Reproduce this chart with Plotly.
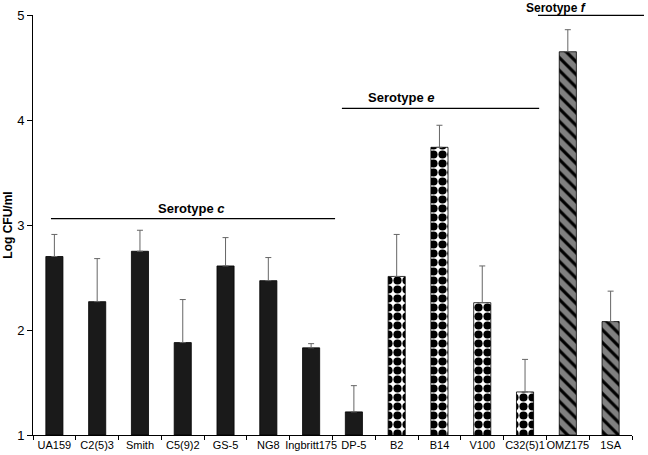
import plotly.graph_objects as go

strains = ["UA159", "C2(5)3", "Smith", "C5(9)2", "GS-5", "NG8", "Ingbritt175",
           "DP-5", "B2", "B14", "V100", "C32(5)1", "OMZ175", "1SA"]
log_cfu = [2.70, 2.27, 2.75, 1.88, 2.61, 2.47, 1.83, 1.22, 2.51, 3.74, 2.26, 1.41, 4.65, 2.08]
err_up = [0.21, 0.41, 0.20, 0.41, 0.27, 0.22, 0.04, 0.25, 0.40, 0.21, 0.35, 0.31, 0.21, 0.29]
serotype = ["c"] * 8 + ["e"] * 4 + ["f"] * 2

fig = go.Figure()

groups = {
    "c": dict(color="#1a1a1a", pattern=dict(shape="")),
    "e": dict(color="white", pattern=dict(shape=".", fgcolor="black", bgcolor="white",
                                          fgopacity=1, size=9, solidity=0.65, fillmode="overlay")),
    "f": dict(color="#808080", pattern=dict(shape="\\", fgcolor="black", bgcolor="#808080",
                                            fgopacity=1, size=9, solidity=0.35, fillmode="overlay")),
}

for g, st in groups.items():
    xs = [s for s, t in zip(strains, serotype) if t == g]
    ys = [v for v, t in zip(log_cfu, serotype) if t == g]
    es = [e for e, t in zip(err_up, serotype) if t == g]
    fig.add_trace(go.Bar(
        x=xs, y=[v - 1 for v in ys], base=1,
        marker=dict(color=st["color"], pattern=st["pattern"],
                    line=dict(color="black", width=0.8)),
        error_y=dict(type="data", symmetric=False, array=es, arrayminus=[0] * len(es),
                     color="#666666", thickness=1, width=3),
        width=0.4, showlegend=False,
    ))

fig.update_layout(
    width=648, height=455,
    margin=dict(l=33, r=16, t=15, b=20),
    plot_bgcolor="white", paper_bgcolor="white",
    font=dict(family="Liberation Sans, Arial, sans-serif", size=11, color="black"),
    xaxis=dict(categoryorder="array", categoryarray=strains, range=[-0.5, 13.5],
               showline=True, linecolor="black", linewidth=1, automargin=False,
               ticks="outside", tickson="boundaries", ticklen=4, tickcolor="black",
               tickangle=0, tickfont=dict(size=11), showgrid=False),
    yaxis=dict(range=[1, 5], tickvals=[1, 2, 3, 4, 5], showline=True, linecolor="black",
               linewidth=1, ticks="outside", ticklen=5, tickcolor="black", automargin=False,
               showgrid=False, zeroline=False, tickfont=dict(size=13),
               title=dict(text="<b>Log CFU/ml</b>", font=dict(size=12), standoff=1)),
    bargap=0.6,
)

# Serotype group lines
fig.add_shape(type="line", xref="x", yref="y", x0=-0.08, x1=6.56, y0=3.06, y1=3.06,
              line=dict(color="black", width=1.2))
fig.add_shape(type="line", xref="x", yref="y", x0=6.72, x1=11.33, y0=4.11, y1=4.11,
              line=dict(color="black", width=1.2))
fig.add_shape(type="line", xref="paper", yref="paper", x0=0.843, x1=1.02, y0=0.999, y1=0.999,
              line=dict(color="black", width=1.2))

fig.add_annotation(x=3.2, y=3.06, xref="x", yref="y", text="<b>Serotype <i>c</i></b>",
                   showarrow=False, yanchor="bottom", yshift=1, font=dict(size=13))
fig.add_annotation(x=8.1, y=4.11, xref="x", yref="y", text="<b>Serotype <i>e</i></b>",
                   showarrow=False, yanchor="bottom", yshift=1, font=dict(size=13))
fig.add_annotation(x=0.927, y=1.0167, xref="paper", yref="paper", text="<b>Serotype <i>f</i></b>",
                   showarrow=False, yanchor="middle", font=dict(size=12))

# remove the browser's default 8px body margin so the figure sits at the page origin
fig.write_html("out.html", config={"displayModeBar": False},
               post_script="document.body.style.margin='0';")
